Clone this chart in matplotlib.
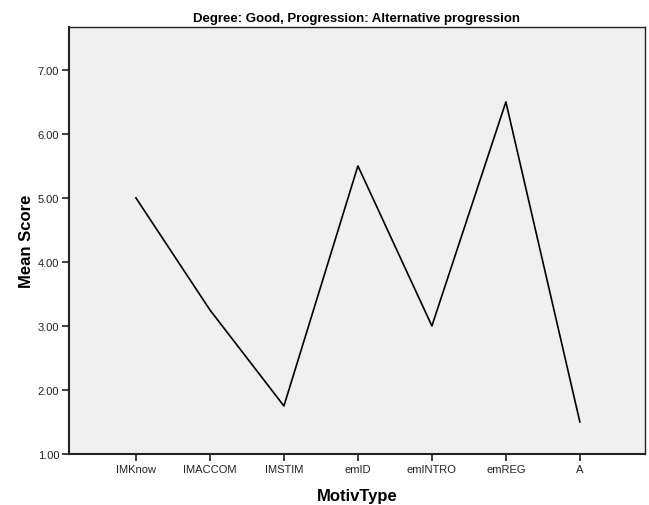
import matplotlib
matplotlib.use("Agg")
import matplotlib.pyplot as plt

categories = ["IMKnow", "IMACCOM", "IMSTIM", "emID", "emINTRO", "emREG", "A"]
mean_scores = [5.0, 3.25, 1.75, 5.5, 3.0, 6.5, 1.5]
y_ticks = [1.0, 2.0, 3.0, 4.0, 5.0, 6.0, 7.0]

plt.rcParams['font.family'] = ['Liberation Sans', 'DejaVu Sans']

fig = plt.figure(figsize=(6.49, 5.06), dpi=100)
ax = fig.add_axes([0.1063, 0.1008, 0.8875, 0.8439])
ax.set_facecolor('#F0F0F0')

x = list(range(len(categories)))
ax.plot(x, mean_scores, color='black', linewidth=1.2)

ax.set_xlim(-0.905, 6.88)
ax.set_ylim(1.0, 7.67)
ax.set_xticks(x)
ax.set_xticklabels(categories, fontsize=8, color='#222222')
ax.set_yticks(y_ticks)
ax.set_yticklabels([f"{v:.2f}" for v in y_ticks], fontsize=8, color='#222222')
ax.tick_params(direction='out', length=5, width=1.2, color='#222222', pad=2)

for s in ax.spines.values():
    s.set_color('#222222')
    s.set_linewidth(1.0)
ax.spines['left'].set_linewidth(1.5)
ax.spines['bottom'].set_linewidth(1.5)

ax.set_title("Degree: Good, Progression: Alternative progression", fontsize=9.5, fontweight='bold', pad=4)
ax.set_xlabel("MotivType", fontsize=12, fontweight='bold', labelpad=10)
ax.set_ylabel("Mean Score", fontsize=12, fontweight='bold', labelpad=3)

fig.savefig("out.png", dpi=100)
